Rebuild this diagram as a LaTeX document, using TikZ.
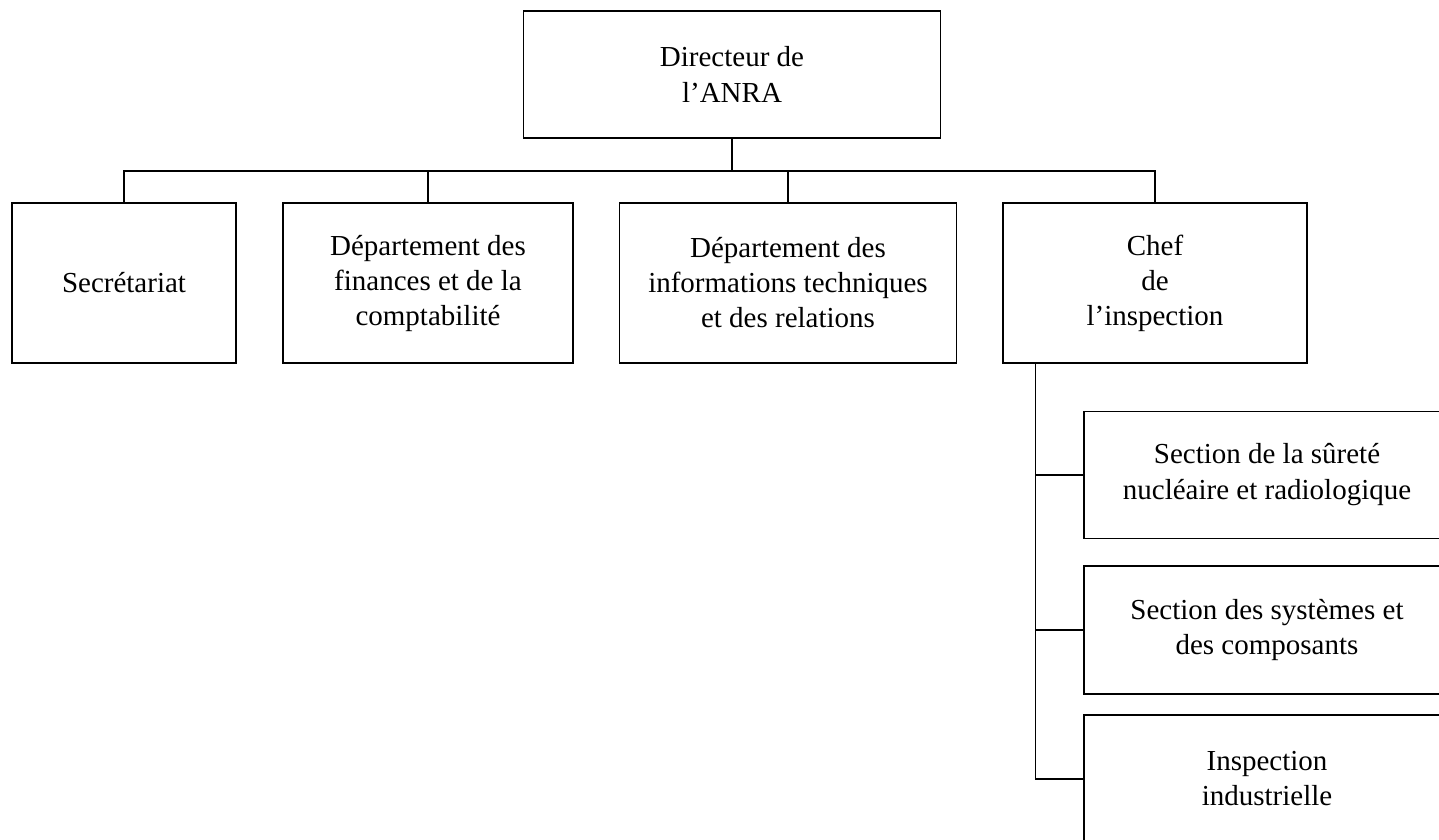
\documentclass[tikz,border=0pt]{standalone}
\usepackage{fontspec}
\setmainfont{Liberation Serif}
\begin{document}
\begin{tikzpicture}[x=1pt,y=-1pt,
  box/.style={draw,line width=1.5pt,rectangle,align=center,inner sep=0pt,
    font=\fontsize{29}{35}\selectfont},
  link/.style={line width=1.5pt}]
\useasboundingbox (0,0) rectangle (1439,839);
\clip (0,0) rectangle (1439,839);
\node[box,minimum width=417,minimum height=127] (dir) at (732,74.5) {Directeur de\\[1pt]l’ANRA};
\node[box,minimum width=224,minimum height=160] (sec) at (124,283) {Secrétariat};
\node[box,minimum width=290,minimum height=160] (fin) at (428,283) {Département des\\finances et de la\\comptabilité};
\node[box,minimum width=337,minimum height=160] (info) at (788,283) {Département des\\informations techniques\\et des relations};
\node[box,minimum width=304,minimum height=160] (chef) at (1155,283) {Chef\\de\\l’inspection};
\node[box,minimum width=366,minimum height=127] (s1) at (1267,475) {Section de la sûreté\\[1pt]nucléaire et radiologique};
\node[box,minimum width=366,minimum height=128] (s2) at (1267,630) {Section des systèmes et\\des composants};
\node[box,minimum width=366,minimum height=128] (s3) at (1267,779) {Inspection\\industrielle};
\coordinate (bus) at (0,171);
\coordinate (ct) at ([xshift=33pt]chef.south west);
\draw[link] (dir.south) -- (dir.south |- bus);
\draw[link] (sec.north) |- (bus -| chef.north) -- (chef.north);
\draw[link] (fin.north) -- (fin.north |- bus);
\draw[link] (info.north) -- (info.north |- bus);
\draw[link] (ct) |- (s3.west);
\draw[link] (ct |- s1.west) -- (s1.west);
\draw[link] (ct |- s2.west) -- (s2.west);
\end{tikzpicture}
\end{document}
